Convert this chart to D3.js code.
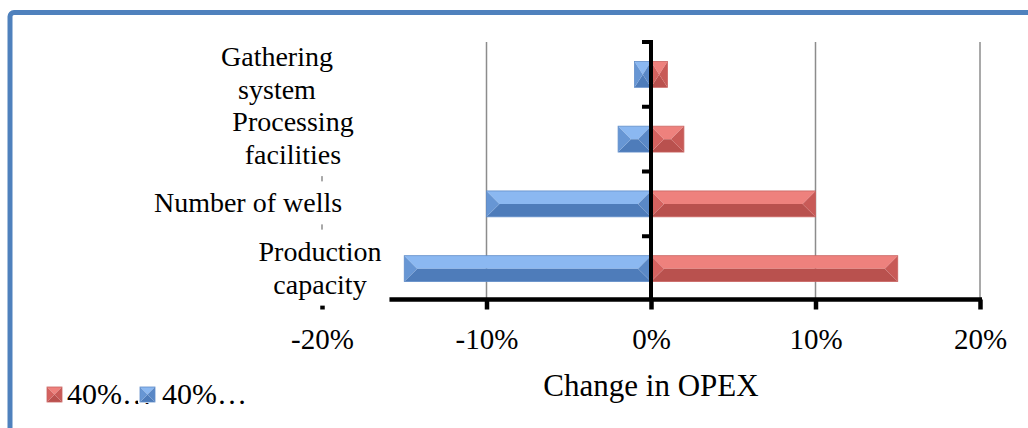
<!DOCTYPE html>
<html>
<head>
<meta charset="utf-8">
<script src="https://cdn.jsdelivr.net/npm/d3@7"></script>
<style>
  html, body { margin: 0; padding: 0; background: #fff; }
  svg { display: block; font-family: "Liberation Serif", "Times New Roman", serif; }
</style>
</head>
<body>
<svg id="chart" width="1028" height="428"></svg>
<script>
// ---- data ----
const categories = ["Gathering system", "Processing facilities", "Number of wells", "Production capacity"];
const categoryLines = [["Gathering", "system"], ["Processing", "facilities"], ["Number of wells"], ["Production", "capacity"]];
const increaseValues = [0.01, 0.02, 0.10, 0.15];
const decreaseValues = [-0.01, -0.02, -0.10, -0.15];
const seriesNames = ["40%…", "40%…"];
const xTicks = [-0.2, -0.1, 0, 0.1, 0.2];
const xTickLabels = ["-20%", "-10%", "0%", "10%", "20%"];
const axisTitle = "Change in OPEX";

// ---- layout ----
const labelCenterX = [277, 293, 248, 320];
const svg = d3.select("#chart");
const x = d3.scaleLinear().domain([-0.2, 0.2]).range([322, 980]);
const y = d3.scaleBand().domain(categories).range([42, 301]).paddingInner(0.6).paddingOuter(0.3);
const axisY = 299.5;

const palette = {
  red:  { top: "#ee817d", bottom: "#b9514e", left: "#d4625f", right: "#c85a57", edge: "#c96360" },
  blue: { top: "#8bb8f1", bottom: "#4e7cba", left: "#6796d4", right: "#5a88c6", edge: "#5f8cc8" }
};

function bevelBar(g, x0, x1, y0, h, c) {
  const b = Math.min(h / 2, (x1 - x0) / 2);
  const ym = y0 + h / 2, y1 = y0 + h;
  const poly = pts => pts.map(p => p.join(",")).join(" ");
  g.append("polygon").attr("points", poly([[x0, y0], [x1, y0], [x1 - b, ym], [x0 + b, ym]])).attr("fill", c.top);
  g.append("polygon").attr("points", poly([[x0, y1], [x1, y1], [x1 - b, ym], [x0 + b, ym]])).attr("fill", c.bottom);
  g.append("polygon").attr("points", poly([[x0, y0], [x0 + b, ym], [x0, y1]])).attr("fill", c.left);
  g.append("polygon").attr("points", poly([[x1, y0], [x1 - b, ym], [x1, y1]])).attr("fill", c.right);
  g.append("rect").attr("x", x0).attr("y", y0).attr("width", x1 - x0).attr("height", h)
    .attr("fill", "none").attr("stroke", c.edge).attr("stroke-width", 0.8);
}

// gridlines
svg.append("g").selectAll("line").data(xTicks).join("line")
  .attr("x1", d => x(d)).attr("x2", d => x(d))
  .attr("y1", 42).attr("y2", axisY)
  .attr("stroke", "#8c8c8c").attr("stroke-width", 1.5);

// bars
const barsG = svg.append("g");
categories.forEach((cat, i) => {
  const y0 = y(cat), h = y.bandwidth();
  bevelBar(barsG, x(0), x(increaseValues[i]), y0, h, palette.red);
  bevelBar(barsG, x(decreaseValues[i]), x(0), y0, h, palette.blue);
});

// x axis
const xAxis = d3.axisBottom(x).tickValues(xTicks).tickSize(10)
  .tickFormat((d, i) => xTickLabels[i]);
const xg = svg.append("g").attr("transform", `translate(0,${axisY})`).call(xAxis);
xg.select(".domain").attr("stroke", "#000").attr("stroke-width", 4.5).attr("d", `M${x(-0.2)},0H${x(0.2) + 2}`);
xg.selectAll(".tick line").attr("stroke", "#000").attr("stroke-width", 4.5);
xg.selectAll(".tick text").attr("y", 49).attr("dy", null).attr("font-size", 29)
  .attr("font-family", "'Liberation Serif', 'Times New Roman', serif").attr("fill", "#000");

// y axis at zero
const yTicks = categories.map(c => y(c) - y.step() * y.paddingInner() / 2);
svg.append("line").attr("x1", x(0)).attr("x2", x(0)).attr("y1", 40).attr("y2", axisY)
  .attr("stroke", "#000").attr("stroke-width", 4);
svg.append("g").selectAll("line").data(yTicks).join("line")
  .attr("x1", x(0) - 9).attr("x2", x(0)).attr("y1", d => d).attr("y2", d => d)
  .attr("stroke", "#000").attr("stroke-width", 4);

// category labels with white boxes (boxes first, then texts)
const boxG = svg.append("g");
const labG = svg.append("g");
const lineH = 33;
categories.forEach((cat, i) => {
  const lines = categoryLines[i];
  const cy = y(cat) + y.bandwidth() / 2;
  const t = labG.append("text").attr("text-anchor", "middle").attr("font-size", 28).attr("fill", "#000");
  lines.forEach((ln, j) => {
    t.append("tspan").attr("x", labelCenterX[i])
      .attr("y", cy + (j - (lines.length - 1) / 2) * lineH + 8.5)
      .text(ln);
  });
  const bb = t.node().getBBox();
  boxG.append("rect").attr("fill", "#fff")
    .attr("x", bb.x - 8).attr("y", bb.y - 6).attr("width", bb.width + 16).attr("height", bb.height + 12);
});

// axis title
svg.append("text").attr("x", x(0)).attr("y", 396).attr("text-anchor", "middle")
  .attr("font-size", 31).attr("fill", "#000").text(axisTitle);

// legend
const legG = svg.append("g");
legG.append("text").attr("x", 67).attr("y", 404).attr("font-size", 30).text(seriesNames[0]);
bevelBar(legG, 47, 62, 387, 15, palette.red);
const lg2 = legG.append("g");
lg2.append("rect").attr("x", 138).attr("y", 386).attr("width", 18).attr("height", 17).attr("fill", "#fff");
bevelBar(lg2, 140, 155, 387, 15, palette.blue);
legG.append("text").attr("x", 162).attr("y", 404).attr("font-size", 30).text(seriesNames[1]);

// outer border (clipped by page)
svg.append("rect").attr("x", 10).attr("y", 12.5).attr("width", 1100).attr("height", 500)
  .attr("rx", 4).attr("fill", "none").attr("stroke", "#4f81bd").attr("stroke-width", 5);
</script>
</body>
</html>
